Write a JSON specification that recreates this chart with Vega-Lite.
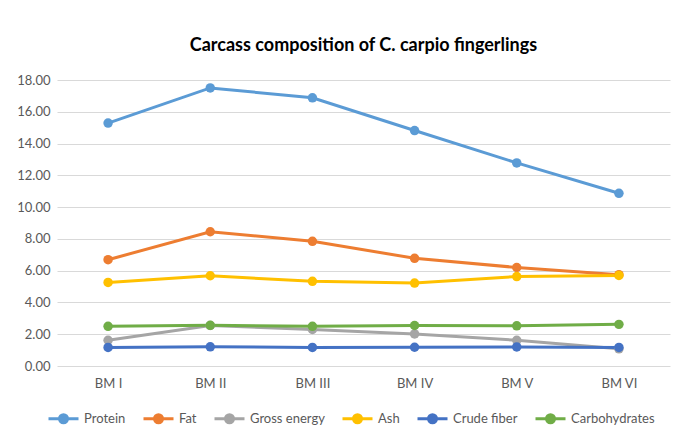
{
  "$schema": "https://vega.github.io/schema/vega-lite/v6.json",
  "width": 613,
  "height": 286,
  "autosize": {"type": "none"},
  "padding": {"left": 57, "top": 80, "right": 10, "bottom": 72},
  "background": "white",
  "title": {
    "text": "Carcass composition of C. carpio fingerlings",
    "font": "Lato",
    "fontSize": 18,
    "fontWeight": "bold",
    "color": "#000000",
    "anchor": "middle",
    "offset": 19
  },
  "config": {
    "view": {"stroke": null},
    "font": "Lato"
  },
  "data": {
    "values": [
      {"group": "BM I", "nutrient": "Protein", "value": 15.29},
      {"group": "BM II", "nutrient": "Protein", "value": 17.5},
      {"group": "BM III", "nutrient": "Protein", "value": 16.88},
      {"group": "BM IV", "nutrient": "Protein", "value": 14.82},
      {"group": "BM V", "nutrient": "Protein", "value": 12.78},
      {"group": "BM VI", "nutrient": "Protein", "value": 10.87},
      {"group": "BM I", "nutrient": "Fat", "value": 6.69},
      {"group": "BM II", "nutrient": "Fat", "value": 8.45},
      {"group": "BM III", "nutrient": "Fat", "value": 7.85},
      {"group": "BM IV", "nutrient": "Fat", "value": 6.78},
      {"group": "BM V", "nutrient": "Fat", "value": 6.2},
      {"group": "BM VI", "nutrient": "Fat", "value": 5.75},
      {"group": "BM I", "nutrient": "Gross energy", "value": 1.62},
      {"group": "BM II", "nutrient": "Gross energy", "value": 2.55},
      {"group": "BM III", "nutrient": "Gross energy", "value": 2.3},
      {"group": "BM IV", "nutrient": "Gross energy", "value": 2.02},
      {"group": "BM V", "nutrient": "Gross energy", "value": 1.62},
      {"group": "BM VI", "nutrient": "Gross energy", "value": 1.08},
      {"group": "BM I", "nutrient": "Ash", "value": 5.26},
      {"group": "BM II", "nutrient": "Ash", "value": 5.68},
      {"group": "BM III", "nutrient": "Ash", "value": 5.33},
      {"group": "BM IV", "nutrient": "Ash", "value": 5.22},
      {"group": "BM V", "nutrient": "Ash", "value": 5.63},
      {"group": "BM VI", "nutrient": "Ash", "value": 5.7},
      {"group": "BM I", "nutrient": "Crude fiber", "value": 1.17},
      {"group": "BM II", "nutrient": "Crude fiber", "value": 1.21},
      {"group": "BM III", "nutrient": "Crude fiber", "value": 1.17},
      {"group": "BM IV", "nutrient": "Crude fiber", "value": 1.18},
      {"group": "BM V", "nutrient": "Crude fiber", "value": 1.2},
      {"group": "BM VI", "nutrient": "Crude fiber", "value": 1.17},
      {"group": "BM I", "nutrient": "Carbohydrates", "value": 2.5},
      {"group": "BM II", "nutrient": "Carbohydrates", "value": 2.56},
      {"group": "BM III", "nutrient": "Carbohydrates", "value": 2.5},
      {"group": "BM IV", "nutrient": "Carbohydrates", "value": 2.55},
      {"group": "BM V", "nutrient": "Carbohydrates", "value": 2.53},
      {"group": "BM VI", "nutrient": "Carbohydrates", "value": 2.62}
    ]
  },
  "mark": {"type": "line", "strokeWidth": 3, "point": {"size": 90, "filled": true, "opacity": 1}},
  "encoding": {
    "x": {
      "field": "group",
      "type": "nominal",
      "sort": null,
      "scale": {"padding": 0.5},
      "axis": {
        "title": null,
        "labelAngle": 0,
        "labelFont": "Lato",
        "labelFontSize": 13,
        "labelColor": "#595959",
        "labelPadding": 11,
        "domain": false,
        "ticks": false,
        "grid": false
      }
    },
    "y": {
      "field": "value",
      "type": "quantitative",
      "scale": {"domain": [0, 18], "nice": false},
      "axis": {
        "title": null,
        "values": [0, 2, 4, 6, 8, 10, 12, 14, 16, 18],
        "format": ".2f",
        "labelFont": "Lato",
        "labelFontSize": 13,
        "labelColor": "#595959",
        "labelPadding": 7,
        "domain": false,
        "ticks": false,
        "grid": true,
        "gridColor": "#D9D9D9",
        "gridWidth": 1
      }
    },
    "color": {
      "field": "nutrient",
      "type": "nominal",
      "sort": ["Protein", "Fat", "Gross energy", "Ash", "Crude fiber", "Carbohydrates"],
      "scale": {
        "domain": ["Protein", "Fat", "Gross energy", "Ash", "Crude fiber", "Carbohydrates"],
        "range": ["#5B9BD5", "#ED7D31", "#A5A5A5", "#FFC000", "#4472C4", "#70AD47"]
      },
      "legend": {
        "title": null,
        "orient": "bottom",
        "direction": "horizontal",
        "labelFont": "Lato",
        "labelFontSize": 13,
        "labelColor": "#595959",
        "symbolType": "M-3.75,0H3.75M1,0A1,1 0 1,1 -1,0A1,1 0 1,1 1,0Z",
        "symbolSize": 64,
        "symbolStrokeWidth": 3,
        "labelOffset": 14,
        "columnPadding": 11,
        "offset": 22
      }
    }
  }
}
